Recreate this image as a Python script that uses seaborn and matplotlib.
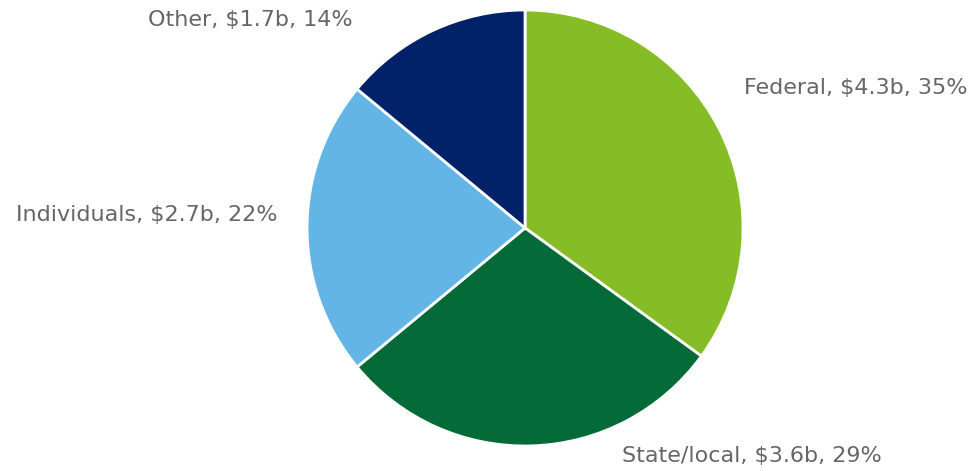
import matplotlib
matplotlib.use("Agg")
import matplotlib.pyplot as plt
import seaborn as sns

# Funding sources (billions of dollars, share of total)
sources = ["Federal", "State/local", "Individuals", "Other"]
amounts = [4.3, 3.6, 2.7, 1.7]
shares = [35, 29, 22, 14]
colors = ["#86BC25", "#046A38", "#62B5E5", "#012169"]

sns.set_theme(style="white")
plt.rcParams["font.family"] = ["DejaVu Sans"]

fig = plt.figure(figsize=(9.75, 4.71), dpi=100)
ax = fig.add_axes([0.3149, 0.0531, 0.4472, 0.9257])

wedges, _ = ax.pie(shares, colors=colors, startangle=90, counterclock=False,
                   wedgeprops=dict(edgecolor="white", linewidth=2))
ax.set_xlim(-1, 1)
ax.set_ylim(-1, 1)
ax.set_aspect("equal")

# label anchors (data units, radius = 1)
label_pos = [(1.518, 0.642), (1.042, -1.046), (-1.734, 0.060), (-1.261, 0.954)]
for name, amt, pct, (x, y) in zip(sources, amounts, shares, label_pos):
    ax.text(x, y, f"{name}, ${amt}b, {pct}%", ha="center", va="center",
            fontsize=16, color="#666666", clip_on=False)

fig.savefig("out.png", dpi=100)
